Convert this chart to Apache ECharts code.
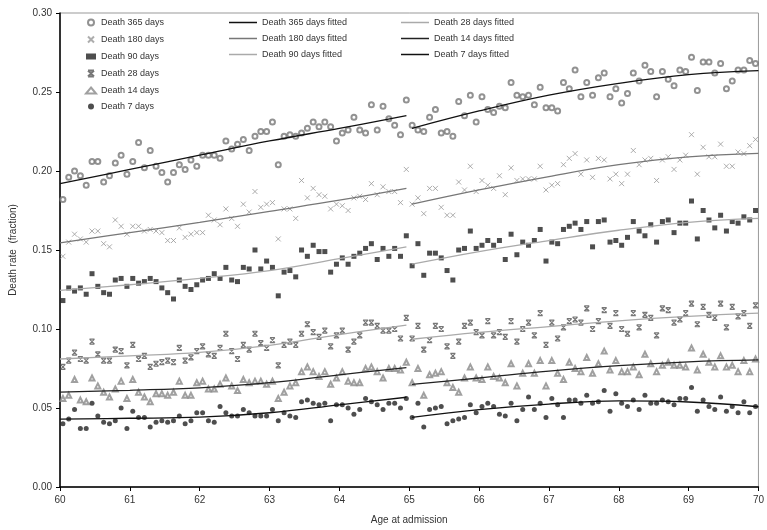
<!DOCTYPE html>
<html>
<head>
    <meta charset="UTF-8">
    <title>Death rate by age at admission</title>
    <script type="text/javascript" src="https://cdn.jsdelivr.net/npm/echarts@6/dist/echarts.min.js"></script>
    <style type="text/css">
        html, body { margin: 0; padding: 0; background: #fff; }
        #chart { width: 767px; height: 530px; }
    </style>
</head>
<body>
<div id="chart"></div>
<script type="text/javascript">
    // monthly observations, one per month of age from 60 to 70 (mid-month)
    var d365 = [0.182,0.196,0.200,0.197,0.191,0.206,0.206,0.193,0.197,0.205, 0.210,0.198,0.206,0.218,0.202,0.213,0.203,0.199,0.193,0.199,
        0.204,0.201,0.207,0.203,0.210,0.210,0.210,0.208,0.219,0.214, 0.217,0.220,0.213,0.222,0.225,0.225,0.231,0.204,0.222,0.223,
        0.222,0.224,0.227,0.231,0.228,0.231,0.228,0.219,0.224,0.226, 0.234,0.226,0.224,0.242,0.226,0.241,0.233,0.229,0.223,0.245,
        0.229,0.226,0.225,0.234,0.239,0.224,0.225,0.222,0.244,0.235, 0.248,0.231,0.247,0.239,0.237,0.241,0.240,0.256,0.248,0.247,
        0.248,0.242,0.253,0.240,0.240,0.238,0.256,0.252,0.264,0.247, 0.256,0.248,0.259,0.262,0.247,0.252,0.243,0.249,0.262,0.257,
        0.267,0.263,0.247,0.263,0.258,0.254,0.264,0.263,0.272,0.251, 0.269,0.269,0.262,0.268,0.252,0.257,0.264,0.264,0.270,0.268];
    var d180 = [0.146,0.155,0.160,0.157,0.155,0.162,0.162,0.154,0.152,0.169, 0.165,0.160,0.165,0.165,0.162,0.163,0.162,0.161,0.156,0.156,
        0.164,0.158,0.160,0.161,0.161,0.172,0.169,0.166,0.176,0.170, 0.165,0.179,0.174,0.187,0.177,0.179,0.180,0.157,0.176,0.176,
        0.170,0.194,0.183,0.189,0.185,0.184,0.176,0.179,0.178,0.175, 0.183,0.184,0.182,0.192,0.185,0.190,0.187,0.187,0.180,0.201,
        0.179,0.183,0.173,0.189,0.189,0.177,0.172,0.172,0.193,0.188, 0.203,0.187,0.194,0.191,0.189,0.197,0.185,0.202,0.194,0.195,
        0.195,0.195,0.203,0.188,0.191,0.192,0.204,0.208,0.211,0.198, 0.207,0.196,0.208,0.207,0.195,0.198,0.192,0.198,0.213,0.204,
        0.207,0.208,0.194,0.207,0.209,0.201,0.207,0.210,0.223,0.198, 0.215,0.209,0.209,0.217,0.203,0.203,0.212,0.211,0.216,0.220];
    var d90 = [0.118,0.126,0.124,0.126,0.122,0.135,0.127,0.123,0.122,0.131, 0.132,0.127,0.132,0.129,0.130,0.132,0.130,0.126,0.123,0.119,
        0.131,0.127,0.125,0.128,0.131,0.132,0.135,0.132,0.139,0.131, 0.130,0.139,0.138,0.150,0.138,0.143,0.139,0.121,0.136,0.137,
        0.133,0.150,0.146,0.153,0.149,0.149,0.136,0.141,0.145,0.141, 0.146,0.148,0.151,0.154,0.144,0.151,0.146,0.151,0.146,0.159,
        0.140,0.154,0.134,0.148,0.148,0.145,0.137,0.131,0.150,0.151, 0.162,0.151,0.153,0.156,0.153,0.156,0.144,0.160,0.147,0.155,
        0.153,0.156,0.163,0.143,0.155,0.154,0.163,0.165,0.167,0.163, 0.168,0.152,0.168,0.169,0.155,0.156,0.153,0.158,0.168,0.162,
        0.159,0.166,0.155,0.168,0.169,0.161,0.167,0.167,0.181,0.157, 0.175,0.169,0.164,0.172,0.162,0.168,0.167,0.171,0.169,0.175];
    var d28 = [0.076,0.080,0.085,0.081,0.080,0.092,0.084,0.080,0.080,0.087, 0.086,0.077,0.090,0.081,0.083,0.076,0.078,0.079,0.080,0.079,
        0.088,0.080,0.082,0.086,0.089,0.084,0.083,0.088,0.097,0.086, 0.081,0.090,0.087,0.097,0.091,0.088,0.093,0.077,0.090,0.092,
        0.090,0.097,0.103,0.098,0.095,0.099,0.089,0.096,0.099,0.087, 0.092,0.096,0.104,0.104,0.102,0.099,0.099,0.100,0.094,0.107,
        0.094,0.102,0.087,0.093,0.102,0.100,0.089,0.083,0.092,0.102, 0.104,0.098,0.096,0.105,0.096,0.098,0.095,0.105,0.092,0.100,
        0.104,0.096,0.110,0.090,0.104,0.094,0.101,0.105,0.106,0.104, 0.113,0.100,0.105,0.112,0.102,0.110,0.100,0.097,0.110,0.101,
        0.109,0.107,0.096,0.113,0.112,0.104,0.106,0.110,0.116,0.103, 0.114,0.109,0.107,0.116,0.101,0.114,0.108,0.110,0.102,0.115];
    var d14 = [0.056,0.058,0.068,0.055,0.054,0.069,0.064,0.060,0.057,0.062, 0.067,0.056,0.068,0.060,0.057,0.054,0.059,0.059,0.058,0.060,
        0.067,0.058,0.058,0.066,0.067,0.062,0.062,0.065,0.069,0.064, 0.061,0.068,0.066,0.067,0.067,0.065,0.067,0.056,0.060,0.064,
        0.066,0.073,0.076,0.073,0.070,0.073,0.065,0.069,0.073,0.067, 0.066,0.066,0.075,0.076,0.073,0.069,0.075,0.075,0.074,0.079,
        0.066,0.075,0.058,0.071,0.072,0.073,0.066,0.063,0.060,0.069, 0.076,0.069,0.068,0.076,0.070,0.069,0.066,0.078,0.064,0.072,
        0.078,0.072,0.080,0.064,0.080,0.072,0.068,0.079,0.075,0.073, 0.082,0.072,0.078,0.086,0.074,0.080,0.073,0.073,0.076,0.071,
        0.084,0.078,0.073,0.077,0.079,0.077,0.077,0.076,0.088,0.074, 0.084,0.079,0.076,0.083,0.076,0.077,0.073,0.080,0.073,0.081];
    var d7 = [0.040,0.043,0.049,0.037,0.037,0.053,0.045,0.041,0.040,0.042, 0.050,0.037,0.048,0.044,0.044,0.038,0.041,0.042,0.041,0.042,
        0.045,0.040,0.042,0.047,0.047,0.042,0.041,0.051,0.047,0.045, 0.045,0.049,0.047,0.045,0.045,0.045,0.049,0.042,0.047,0.045,
        0.044,0.054,0.055,0.053,0.052,0.053,0.042,0.052,0.052,0.050, 0.046,0.049,0.056,0.054,0.052,0.049,0.053,0.053,0.050,0.056,
        0.044,0.053,0.038,0.049,0.050,0.051,0.040,0.042,0.043,0.044, 0.052,0.047,0.051,0.053,0.051,0.046,0.045,0.053,0.042,0.049,
        0.057,0.049,0.053,0.044,0.056,0.052,0.044,0.055,0.055,0.053, 0.058,0.053,0.054,0.061,0.048,0.059,0.053,0.051,0.055,0.049,
        0.058,0.053,0.053,0.055,0.054,0.052,0.056,0.056,0.063,0.048, 0.055,0.051,0.049,0.057,0.048,0.051,0.047,0.054,0.047,0.051];

    // fitted curves, two pieces (before and after age 65)
    var fitAgesA = [60, 61, 62, 63, 64, 64.96];
    var fitAgesB = [65.04, 66, 67, 68, 69, 70];
    var fit365a = [0.192, 0.201, 0.210, 0.219, 0.227, 0.235];
    var fit365b = [0.227, 0.238, 0.248, 0.2555, 0.261, 0.2635];
    var fit180a = [0.1545, 0.161, 0.1675, 0.1745, 0.1815, 0.189];
    var fit180b = [0.179, 0.188, 0.1965, 0.204, 0.209, 0.2112];
    var fit90a = [0.1245, 0.128, 0.132, 0.137, 0.1445, 0.152];
    var fit90b = [0.141, 0.149, 0.156, 0.1625, 0.1675, 0.170];
    var fit28a = [0.081, 0.083, 0.0852, 0.0897, 0.0965, 0.1025];
    var fit28b = [0.0935, 0.0978, 0.1015, 0.1052, 0.108, 0.110];
    var fit14a = [0.060, 0.0612, 0.0628, 0.066, 0.071, 0.0755];
    var fit14b = [0.065, 0.069, 0.0733, 0.0768, 0.0792, 0.0804];
    var fit7a = [0.043, 0.0435, 0.0442, 0.047, 0.052, 0.0568];
    var fit7b = [0.0441, 0.049, 0.0525, 0.0545, 0.0538, 0.0508];

    var xTicks = [60, 61, 62, 63, 64, 65, 66, 67, 68, 69, 70];

    var font = 'Liberation Sans, Arial, sans-serif';
    var legendText = {fontSize: 9, color: '#333', fontFamily: font};

    function points(vals) {
        return vals.map(function (v, i) { return [60 + (i + 0.5) / 12, v]; });
    }
    function fitted(a, b) {
        var out = fitAgesA.map(function (x, i) { return [x, a[i]]; });
        out.push([null, null]);
        return out.concat(fitAgesB.map(function (x, i) { return [x, b[i]]; }));
    }

    var crossPath = 'path://M0,0L10,10M10,0L0,10';
    var boxCrossPath = 'path://M0,0H10M0,10H10M0,0L10,10M10,0L0,10';

    function scatter(name, vals, symbol, size, style) {
        return {name: name, type: 'scatter', data: points(vals), symbol: symbol, symbolSize: size, itemStyle: style, z: 2};
    }
    function fitLine(name, a, b, color) {
        return {name: name, type: 'line', data: fitted(a, b), symbol: 'none', smooth: 0.4, connectNulls: false,
            lineStyle: {color: color, width: 1.3}, itemStyle: {color: color}, z: 3};
    }

    var chart = echarts.init(document.getElementById('chart'));
    chart.setOption({
        animation: false,
        grid: {left: 60, right: 7, top: 13, bottom: 43, show: true, borderColor: '#999', borderWidth: 1},
        legend: [
            {data: ['Death 365 days', 'Death 180 days', 'Death 90 days', 'Death 28 days', 'Death 14 days', 'Death 7 days'],
                orient: 'vertical', left: 80, top: 13, itemWidth: 10, itemHeight: 6, itemGap: 7, textStyle: legendText},
            {data: ['Death 365 days fitted', 'Death 180 days fitted', 'Death 90 days fitted'],
                orient: 'vertical', left: 224, top: 13, icon: 'rect', itemWidth: 28, itemHeight: 1.5, itemGap: 7,
                textStyle: legendText},
            {data: ['Death 28 days fitted', 'Death 14 days fitted', 'Death 7 days fitted'],
                orient: 'vertical', left: 396, top: 13, icon: 'rect', itemWidth: 28, itemHeight: 1.5, itemGap: 7,
                textStyle: legendText}
        ],
        xAxis: {
            type: 'value', min: 60, max: 70, interval: 1,
            name: 'Age at admission', nameLocation: 'middle', nameGap: 28,
            nameTextStyle: {fontSize: 10, color: '#333', fontFamily: font},
            axisLine: {lineStyle: {color: '#000', width: 1.5}},
            axisTick: {length: 4, lineStyle: {color: '#000'}},
            axisLabel: {fontSize: 10, color: '#333', fontFamily: font, margin: 8,
                formatter: function (v) { return xTicks.indexOf(v) >= 0 ? String(v) : ''; }},
            splitLine: {show: false}
        },
        yAxis: {
            type: 'value', min: 0, max: 0.30, interval: 0.05,
            name: 'Death rate  (fraction)', nameLocation: 'middle', nameGap: 42, nameRotate: 90,
            nameTextStyle: {fontSize: 10, color: '#333', fontFamily: font},
            axisLine: {show: true, lineStyle: {color: '#000', width: 1.5}},
            axisTick: {show: true, length: 4, lineStyle: {color: '#000'}},
            axisLabel: {fontSize: 10, color: '#333', fontFamily: font, margin: 8,
                formatter: function (v) { return v.toFixed(2); }},
            splitLine: {show: false}
        },
        series: [
            scatter('Death 365 days', d365, 'emptyCircle', 5, {color: '#777', borderWidth: 1}),
            scatter('Death 180 days', d180, crossPath, 5, {color: 'none', borderColor: '#999', borderWidth: 1}),
            scatter('Death 90 days', d90, 'rect', 5, {color: '#222'}),
            scatter('Death 28 days', d28, boxCrossPath, 5, {color: 'none', borderColor: '#555', borderWidth: 1.2}),
            scatter('Death 14 days', d14, 'emptyTriangle', 5, {color: '#888', borderWidth: 1}),
            scatter('Death 7 days', d7, 'circle', 5, {color: '#222'}),
            fitLine('Death 365 days fitted', fit365a, fit365b, '#111'),
            fitLine('Death 180 days fitted', fit180a, fit180b, '#777'),
            fitLine('Death 90 days fitted', fit90a, fit90b, '#aaa'),
            fitLine('Death 28 days fitted', fit28a, fit28b, '#aaa'),
            fitLine('Death 14 days fitted', fit14a, fit14b, '#222'),
            fitLine('Death 7 days fitted', fit7a, fit7b, '#111')
        ]
    });
</script>
</body>
</html>
